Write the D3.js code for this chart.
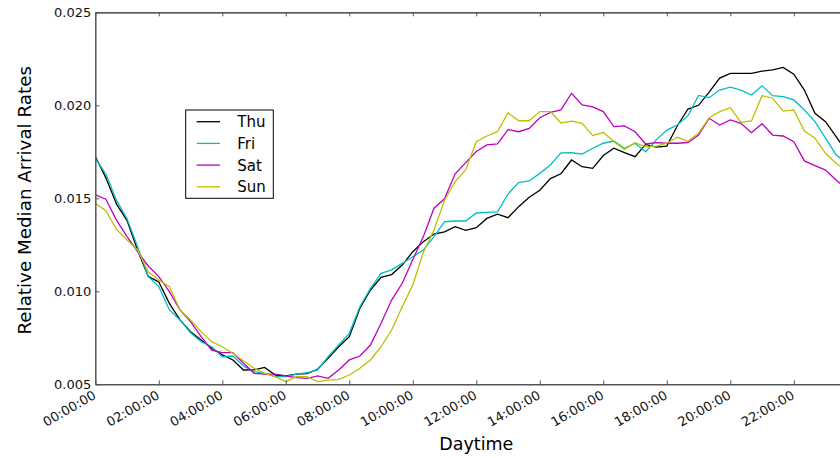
<!DOCTYPE html>
<html>
<head>
<meta charset="utf-8">
<script src="https://cdn.jsdelivr.net/npm/d3@7"></script>
<style>
  html, body { margin: 0; padding: 0; background: #fff; overflow: hidden; }
  svg { display: block; font-family: "DejaVu Sans", sans-serif; }
</style>
</head>
<body>
<svg id="chart" width="840" height="458"></svg>
<script>
// ---- data (sample every 20 minutes, starting 00:00) ----
const stepMinutes = 20;
const tickHours = [0, 2, 4, 6, 8, 10, 12, 14, 16, 18, 20, 22, 24];
const tickLabels = ["00:00:00","02:00:00","04:00:00","06:00:00","08:00:00","10:00:00",
                    "12:00:00","14:00:00","16:00:00","18:00:00","20:00:00","22:00:00",""];
const yTicks = [0.005, 0.010, 0.015, 0.020, 0.025];
const seriesNames = ["Thu", "Fri", "Sat", "Sun"];
const seriesColors = ["#000000", "#00bfbf", "#bf00bf", "#bfbf00"];

const thu = [0.01725,0.0161,0.0147,0.0138,0.0122,0.0108,0.0105,0.00935,0.00846,0.00783,0.00738,0.00694,
  0.00658,0.00631,0.00577,0.00578,0.00591,0.0055,0.00545,0.00555,0.00557,0.00581,0.0064,0.00702,
  0.00756,0.00909,0.01007,0.01075,0.0109,0.01141,0.01213,0.01267,0.01308,0.0132,0.01347,0.01328,
  0.01342,0.01392,0.01415,0.01396,0.01455,0.01506,0.01543,0.01606,0.01632,0.01706,0.0167,0.01661,
  0.0173,0.01769,0.01746,0.01724,0.0179,0.01775,0.01781,0.0189,0.0198,0.02,0.02071,0.02146,
  0.02172,0.02172,0.02172,0.02184,0.0219,0.02204,0.02167,0.02082,0.01957,0.01912,0.01831,0.0175];
const fri = [0.01715,0.0163,0.0149,0.0139,0.0124,0.0108,0.01025,0.009,0.00846,0.00777,0.00729,0.00702,
  0.00648,0.00652,0.00598,0.00568,0.00559,0.00541,0.00541,0.00555,0.00562,0.00577,0.00648,0.00711,
  0.00774,0.00917,0.01016,0.01097,0.01115,0.0115,0.01186,0.01222,0.01294,0.01374,0.01378,0.01378,
  0.01421,0.01424,0.01427,0.01523,0.01584,0.01593,0.01634,0.01679,0.01744,0.01745,0.01738,0.01769,
  0.01796,0.01808,0.01769,0.01796,0.0175,0.01814,0.01867,0.01894,0.01944,0.02053,0.02041,0.02082,
  0.02098,0.02082,0.02055,0.02105,0.02052,0.02047,0.02029,0.01975,0.01912,0.01823,0.01733,0.0169];
const sat = [0.01518,0.01495,0.01383,0.01294,0.01213,0.01136,0.01079,0.00998,0.009,0.00837,0.00756,0.00684,
  0.0067,0.0067,0.00613,0.00559,0.00555,0.00555,0.00545,0.00536,0.00532,0.00545,0.00532,0.00577,
  0.00631,0.00652,0.00711,0.00828,0.00953,0.01043,0.0117,0.01294,0.01447,0.01497,0.01632,0.01692,
  0.01752,0.01787,0.01792,0.01869,0.01858,0.01876,0.01933,0.01962,0.01975,0.02065,0.02002,0.01992,
  0.01966,0.01885,0.01889,0.01858,0.01792,0.01799,0.01796,0.01796,0.018,0.0184,0.0193,0.01894,
  0.01921,0.01903,0.01853,0.01901,0.0184,0.01835,0.01804,0.01701,0.01676,0.01652,0.01598,0.0155];
const sun = [0.01473,0.01433,0.01333,0.01276,0.01222,0.01105,0.01061,0.01025,0.009,0.00846,0.00783,0.00729,
  0.00702,0.00667,0.00627,0.00586,0.00559,0.00541,0.00514,0.00541,0.00541,0.00514,0.00523,0.00527,
  0.0055,0.00586,0.00631,0.00702,0.00792,0.00917,0.01034,0.0121,0.0133,0.0149,0.0159,0.01654,
  0.01804,0.01835,0.01858,0.0196,0.01917,0.01917,0.01966,0.01966,0.01905,0.01915,0.01903,0.01837,
  0.01855,0.01804,0.01763,0.01799,0.01777,0.01781,0.01796,0.01828,0.01806,0.0185,0.01933,0.01966,
  0.01987,0.01909,0.01916,0.02052,0.02038,0.01969,0.01975,0.01862,0.01823,0.01742,0.01688,0.0165];
const seriesValues = [thu, fri, sat, sun];

// ---- layout ----
const plotLeft = 95.3, plotRight = 857.3, plotTop = 12.3, plotBottom = 384.3;
const svg = d3.select("#chart");

const x = d3.scaleLinear().domain([0, 24]).range([plotLeft, plotRight]);
const y = d3.scaleLinear().domain([0.005, 0.025]).range([plotBottom, plotTop]);

// clip
svg.append("defs").append("clipPath").attr("id", "plotclip")
  .append("rect").attr("x", plotLeft).attr("y", plotTop)
  .attr("width", plotRight - plotLeft).attr("height", plotBottom - plotTop);

// lines
const line = d3.line()
  .x((d, i) => x(i * stepMinutes / 60))
  .y(d => y(d));

const lines = svg.append("g").attr("clip-path", "url(#plotclip)");
seriesValues.forEach((vals, k) => {
  lines.append("path")
    .datum(vals)
    .attr("fill", "none")
    .attr("stroke", seriesColors[k])
    .attr("stroke-width", 1.3)
    .attr("stroke-linejoin", "miter")
    .attr("d", line);
});

// axes
const spineColor = "#555";
const fmtX = (d) => tickLabels[tickHours.indexOf(d)];

const xAxisB = d3.axisBottom(x).tickValues(tickHours).tickSizeInner(-4).tickSizeOuter(0).tickFormat(fmtX);
const gxb = svg.append("g").attr("transform", `translate(0,${plotBottom})`).call(xAxisB);
gxb.select(".domain").attr("stroke", spineColor).attr("stroke-width", 1.5);
gxb.selectAll(".tick line").attr("stroke", spineColor).attr("stroke-width", 1);
gxb.selectAll(".tick text")
  .attr("y", 0).attr("x", 0).attr("dy", 0)
  .attr("text-anchor", "end")
  .attr("transform", "translate(1,13.5) rotate(-30)")
  .attr("font-size", 13)
  .attr("font-family", "DejaVu Sans, sans-serif")
  .attr("fill", "#111");

const xAxisT = d3.axisTop(x).tickValues(tickHours).tickSizeInner(-4).tickSizeOuter(0).tickFormat("");
const gxt = svg.append("g").attr("transform", `translate(0,${plotTop})`).call(xAxisT);
gxt.select(".domain").attr("stroke", "#222").attr("stroke-width", 1.3);
gxt.selectAll(".tick line").attr("stroke", spineColor);

const yAxisL = d3.axisLeft(y).tickValues(yTicks).tickSizeInner(-4).tickSizeOuter(0)
  .tickPadding(5).tickFormat(d3.format(".3f"));
const gyl = svg.append("g").attr("transform", `translate(${plotLeft},0)`).call(yAxisL);
gyl.select(".domain").attr("stroke", spineColor).attr("stroke-width", 1.5);
gyl.selectAll(".tick line").attr("stroke", spineColor);
gyl.selectAll(".tick text")
  .attr("x", -4)
  .attr("font-size", 13)
  .attr("font-family", "DejaVu Sans, sans-serif")
  .attr("fill", "#111");

const yAxisR = d3.axisRight(y).tickValues(yTicks).tickSizeInner(-4).tickSizeOuter(0).tickFormat("");
const gyr = svg.append("g").attr("transform", `translate(${plotRight},0)`).call(yAxisR);
gyr.select(".domain").attr("stroke", spineColor).attr("stroke-width", 1.5);

// axis titles
svg.append("text")
  .attr("x", (plotLeft + plotRight) / 2).attr("y", 450)
  .attr("text-anchor", "middle")
  .attr("font-size", 17.5)
  .attr("fill", "#000")
  .text("Daytime");

svg.append("text")
  .attr("transform", `translate(31,${(plotTop + plotBottom) / 2 + 2}) rotate(-90)`)
  .attr("text-anchor", "middle")
  .attr("font-size", 18.3)
  .attr("fill", "#000")
  .text("Relative Median Arrival Rates");

// legend
const legend = svg.append("g");
legend.append("rect")
  .attr("x", 185.7).attr("y", 110).attr("width", 87.6).attr("height", 88.3)
  .attr("fill", "#fff").attr("stroke", "#000").attr("stroke-width", 1);
seriesNames.forEach((name, k) => {
  const ly = 121.7 + k * 21.7;
  legend.append("line")
    .attr("x1", 196.7).attr("x2", 220).attr("y1", ly).attr("y2", ly)
    .attr("stroke", seriesColors[k]).attr("stroke-width", 1.3);
  legend.append("text")
    .attr("x", 237.3).attr("y", ly + 5.5)
    .attr("font-size", 15)
    .attr("fill", "#000")
    .text(name);
});
</script>
</body>
</html>
